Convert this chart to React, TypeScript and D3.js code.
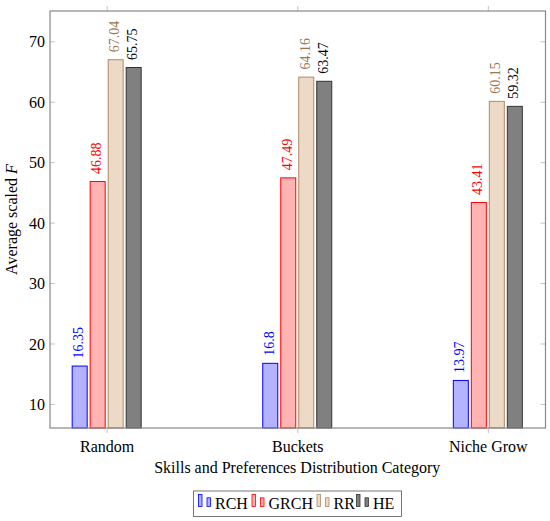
import React from 'react';
import * as d3 from 'd3';

const categories = ['Random', 'Buckets', 'Niche Grow'];
const seriesNames = ['RCH', 'GRCH', 'RR', 'HE'];
const rchValues = [16.35, 16.8, 13.97];
const grchValues = [46.88, 47.49, 43.41];
const rrValues = [67.04, 64.16, 60.15];
const heValues = [65.75, 63.47, 59.32];
const yTicks = [10, 20, 30, 40, 50, 60, 70];

const seriesValues = [rchValues, grchValues, rrValues, heValues];

// pgfplots-like colours: draw=c, fill=c!30
const fills = ['#b3b3ff', '#ffb3b3', '#ecd9c6', '#808080'];
const strokes = ['#0000ff', '#ff0000', '#b08a64', '#333333'];
const labelColors = ['#0000ff', '#ff0000', '#9c7650', '#000000'];

const W = 550;
const H = 521;
const margin = { top: 11, right: 4.5, bottom: 93, left: 50 };
const FONT = "Liberation Serif, DejaVu Serif, serif";

const App: React.FC = () => {
  const x0 = margin.left;
  const x1 = W - margin.right;
  const y0 = H - margin.bottom;
  const y1 = margin.top;

  const xScale = d3.scaleLinear().domain([-0.3, categories.length - 0.7]).range([x0, x1]);
  const yScale = d3.scaleLinear().domain([6.1, 75.1]).range([y0, y1]);

  const barStep = 18;
  const barWidth = 15;
  const offset = (j: number) => (j - (seriesNames.length - 1) / 2) * barStep - 0.5;

  // legend item starts (layout only)
  const legendX = [198, 251.5, 316.5, 356];

  return (
    <svg
      width={W}
      height={H}
      fontFamily={FONT}
      style={{ position: 'absolute', left: 0, top: 0 }}
    >
      <rect x={0} y={0} width={W} height={H} fill="#fff" />

      {/* y ticks, both sides, inside */}
      {yTicks.map((t) => (
        <g key={t}>
          <line x1={x0} x2={x0 + 5} y1={yScale(t)} y2={yScale(t)} stroke="#c4c4c4" />
          <line x1={x1} x2={x1 - 5} y1={yScale(t)} y2={yScale(t)} stroke="#c4c4c4" />
          <text
            x={x0 - 5}
            y={yScale(t)}
            dy="0.35em"
            textAnchor="end"
            fontFamily={FONT}
            fontSize={16}
            fill="#000"
          >
            {t}
          </text>
        </g>
      ))}

      {/* x ticks, top and bottom, outside */}
      {categories.map((c, i) => (
        <g key={c}>
          <line x1={xScale(i)} x2={xScale(i)} y1={y0} y2={y0 + 5} stroke="#c4c4c4" />
          <line x1={xScale(i)} x2={xScale(i)} y1={y1} y2={y1 - 5} stroke="#c4c4c4" />
          <text x={xScale(i)} y={452} textAnchor="middle" fontFamily={FONT} fontSize={16} fill="#000">
            {c}
          </text>
        </g>
      ))}

      {/* bars */}
      {seriesValues.map((vals, j) =>
        vals.map((v, i) => {
          const cx = xScale(i) + offset(j);
          return (
            <g key={`${j}-${i}`}>
              <rect
                x={cx - barWidth / 2}
                y={yScale(v)}
                width={barWidth}
                height={y0 - yScale(v)}
                fill={fills[j]}
                stroke={strokes[j]}
                strokeWidth={1}
              />
              <text
                transform={`translate(${cx + 3.5},${yScale(v) - 7.5}) rotate(-90)`}
                fontFamily={FONT}
                fontSize={14}
                fill={labelColors[j]}
              >
                {v}
              </text>
            </g>
          );
        })
      )}

      {/* frame */}
      <rect
        x={x0}
        y={y1}
        width={x1 - x0}
        height={y0 - y1}
        fill="none"
        stroke="#888"
        strokeWidth={1.2}
      />

      {/* axis labels */}
      <text x={(x0 + x1) / 2 - 0.5} y={473} textAnchor="middle" fontFamily={FONT} fontSize={16} fill="#000">
        Skills and Preferences Distribution Category
      </text>
      <text
        transform={`translate(17,${(y0 + y1) / 2}) rotate(-90)`}
        textAnchor="middle"
        fontFamily={FONT}
        fontSize={16}
        fill="#000"
      >
        Average scaled <tspan fontStyle="italic">F</tspan>
      </text>

      {/* legend */}
      <rect x={193.5} y={491} width={208} height={25.5} fill="#fff" stroke="#555" strokeWidth={0.8} />
      {seriesNames.map((s, j) => (
        <g key={s} transform={`translate(${legendX[j]},0)`}>
          <rect x={0.5} y={494.5} width={3.5} height={12} fill={fills[j]} stroke={strokes[j]} strokeWidth={0.8} />
          <rect x={9} y={497.8} width={3.5} height={8.7} fill={fills[j]} stroke={strokes[j]} strokeWidth={0.8} />
          <text x={17} y={509} fontFamily={FONT} fontSize={16} fill="#000">
            {s}
          </text>
        </g>
      ))}
    </svg>
  );
};

export default App;
